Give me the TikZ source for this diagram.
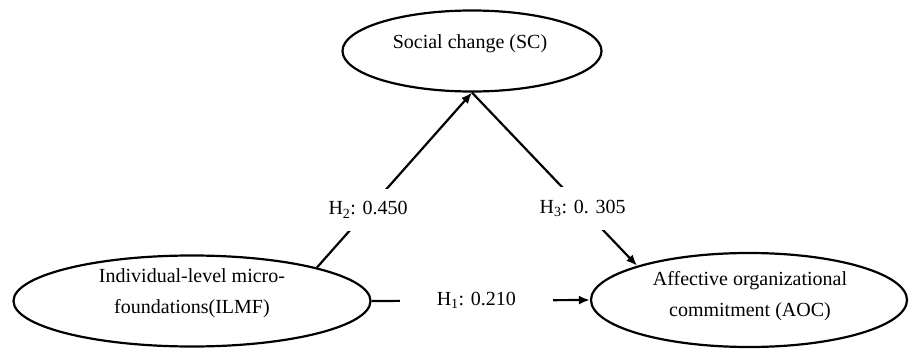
\documentclass[tikz,border=0pt]{standalone}
\usepackage{fontspec}
\setmainfont{Liberation Serif}
\usetikzlibrary{shapes.geometric,arrows.meta}
\begin{document}
\begin{tikzpicture}[x=1pt,y=-1pt,
  construct/.style={draw,ellipse,line width=2.2pt,inner sep=0pt},
  ctext/.style={align=center,font=\fontsize{20}{31}\selectfont},
  arr/.style={line width=2.2pt,-{Latex[length=11pt,width=9pt]}},
  lbl/.style={fill=white,inner xsep=30pt,inner ysep=13pt,font=\fontsize{20}{24}\selectfont}]
\useasboundingbox (0,0) rectangle (910,350);
\node[construct,minimum width=259pt,minimum height=81pt] (sc) at (472,51) {};
\node[construct,minimum width=357pt,minimum height=91pt] (ilmf) at (192,301) {};
\node[construct,minimum width=316pt,minimum height=94pt] (aoc) at (749,300) {};
\node[ctext] (sct) at (470,44) {Social change (SC)};
\node[ctext] (ilmft) at (192,293) {Individual-level micro-\\foundations(ILMF)};
\node[ctext] (aoct) at (750,296) {Affective organizational\\commitment (AOC)};
\draw[arr] (ilmf.15) -- node[lbl,pos=0.33] (h2) {H\textsubscript{2}: 0.450} (sc.south);
\draw[arr] (sc.south) -- node[lbl,pos=0.67] (h3) {H\textsubscript{3}: 0. 305} (aoc.163);
\draw[arr] (ilmf.east) -- node[lbl,pos=0.48,inner xsep=37pt] (h1) {H\textsubscript{1}: 0.210} (aoc.west);
\end{tikzpicture}
\end{document}
